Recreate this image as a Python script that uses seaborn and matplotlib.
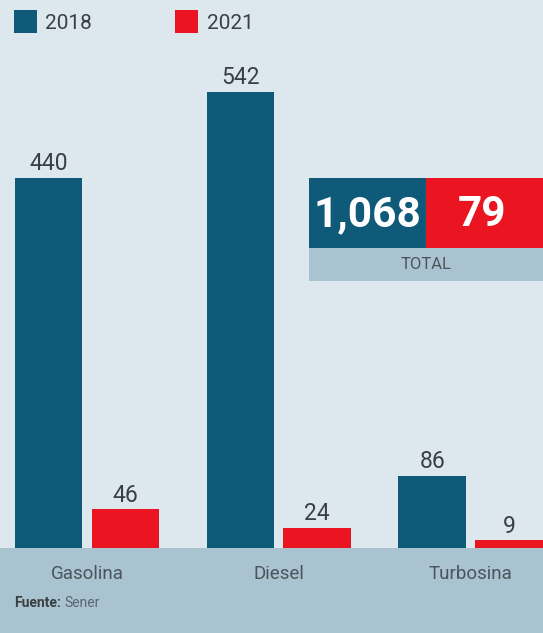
import matplotlib
matplotlib.use("Agg")
import matplotlib.pyplot as plt
import seaborn as sns
import pandas as pd
from matplotlib.patches import Rectangle, Patch

categories = ["Gasolina", "Diesel", "Turbosina"]
years = ["2018", "2021"]
values_2018 = [440, 542, 86]
values_2021 = [46, 24, 9]
source_label = "Fuente:"
source_name = "Sener"
total_label = "TOTAL"

TEAL = "#0e5a78"
RED = "#ea1520"
BG = "#dde8ee"
BAND = "#a9c4d0"
TXT = "#3a3f44"

df = pd.DataFrame({
    "cat": categories * 2,
    "year": [years[0]] * 3 + [years[1]] * 3,
    "val": values_2018 + values_2021,
})

sns.set_theme(style="white")
plt.rcParams["font.family"] = ["Roboto", "DejaVu Sans"]

W, H = 543, 633
fig = plt.figure(figsize=(W / 100, H / 100), dpi=100)
fig.patch.set_facecolor(BG)

base_y = 548
# bottom band
fig.patches.append(Rectangle((0, 0), 1, (H - base_y) / H, transform=fig.transFigure,
                             facecolor=BAND, edgecolor="none", zorder=-1))

ax = fig.add_axes([0, (H - base_y) / H, 1, base_y / H])
ax.set_facecolor("none")
sns.barplot(data=df, x="cat", y="val", hue="year", palette=[TEAL, RED],
            width=0.8, gap=0.12, ax=ax, legend=False, saturation=1, linewidth=0)
ax.set_xlim(-0.454, 2.378)
ax.set_ylim(0, base_y / 0.841)
for s in ax.spines.values():
    s.set_visible(False)
ax.set_xticks([])
ax.set_yticks([])
ax.set_xlabel("")
ax.set_ylabel("")

for cont in ax.containers:
    ax.bar_label(cont, labels=[str(int(v)) for v in cont.datavalues], padding=2,
                 fontsize=16.5, color=TXT)

# category labels (x positions via axes data transform)
for i, c in enumerate(categories):
    xf = fig.transFigure.inverted().transform(ax.transData.transform((i, 0)))[0]
    fig.text(xf, 1 - 579 / H, c, ha="center", va="baseline", fontsize=13.5,
             color="#4a545c", zorder=5)

# source
fig.text(14 / W, 1 - 607 / H, source_label, fontsize=10, fontweight="bold", color=TXT,
         ha="left", va="baseline")
fig.text(64 / W, 1 - 607 / H, source_name, fontsize=10, color="#5a6670",
         ha="left", va="baseline")

# legend
handles = [Patch(facecolor=TEAL, edgecolor="none"), Patch(facecolor=RED, edgecolor="none")]
fig.legend(handles, years, loc="upper left", bbox_to_anchor=(14 / W, 1 - 10 / H), ncol=2,
           frameon=False, borderpad=0, borderaxespad=0, handlelength=1.1, handleheight=1.35,
           handletextpad=0.4, columnspacing=4.0, fontsize=15, labelcolor=TXT)

# total box
bx0, bx1, bxm = 309, 543, 426
top, mid, bot = 178, 248, 281
def fr(x0, y0, x1, y1, color):
    fig.patches.append(Rectangle((x0 / W, 1 - y1 / H), (x1 - x0) / W, (y1 - y0) / H,
                                 transform=fig.transFigure, facecolor=color,
                                 edgecolor="none", zorder=3))
fr(bx0, top, bxm, mid, TEAL)
fr(bxm, top, bx1, mid, RED)
fr(bx0, mid, bx1, bot, BAND)
total_2018 = sum(values_2018)
total_2021 = sum(values_2021)
fig.text(367 / W, 1 - 215 / H, f"{total_2018:,}", fontsize=30.5, fontweight="bold",
         color="white", ha="center", va="center", zorder=4)
fig.text(482 / W, 1 - 215 / H, f"{total_2021:,}", fontsize=30.5, fontweight="bold",
         color="white", ha="center", va="center", zorder=4)
fig.text(426 / W, 1 - 265 / H, total_label, fontsize=12, color="#4a545c",
         ha="center", va="center", zorder=4)

fig.savefig("out.png", dpi=100, facecolor=BG)
